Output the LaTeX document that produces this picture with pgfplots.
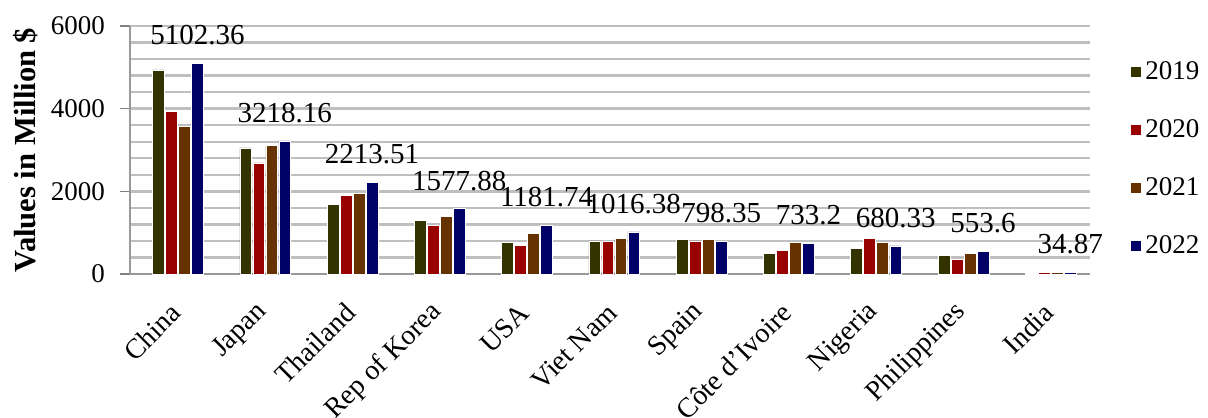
\documentclass[border=0pt]{standalone}
\usepackage{pgfplots}
\pgfplotsset{compat=1.18}
\usepackage{pgfplotstable}
\usepackage{fontspec}
\setmainfont{Liberation Serif}
\newcommand\ft{\fontsize{13.5}{16}\selectfont}
\newcommand\fc{\fontsize{14}{16}\selectfont}
\newcommand\fd{\fontsize{14.5}{17}\selectfont}
\newcommand\fy{\fontsize{15.3}{18}\selectfont}
\definecolor{c19}{HTML}{333300}
\definecolor{c20}{HTML}{990000}
\definecolor{c21}{HTML}{663300}
\definecolor{c22}{HTML}{000066}
\definecolor{gridc}{HTML}{BFBFBF}
\pgfplotstableread{
x a b c d lab
0 4940 3940 3580 5102.36 5102.36
1 3050 2690 3120 3218.16 3218.16
2 1680 1900 1950 2213.51 2213.51
3 1290 1170 1385 1577.88 1577.88
4 770 700 990 1181.74 1181.74
5 800 780 870 1016.38 1016.38
6 840 800 830 798.35 798.35
7 490 565 760 733.2 733.2
8 610 870 755 680.33 680.33
9 455 360 500 553.6 553.6
10 20 30 45 34.87 34.87
}\data
\begin{document}
\begin{tikzpicture}
\begin{axis}[
  scale only axis, width=480pt, height=124pt,
  xmin=-0.55, xmax=10.45, ymin=0, ymax=6000,
  ybar=0.6pt, bar width=5.9pt,
  /pgf/number format/assume math mode=true,
  /pgf/number format/1000 sep={},
  xtick=data,
  xticklabels={China,Japan,Thailand,Rep of Korea,USA,Viet Nam,Spain,{Côte d'Ivoire},Nigeria,Philippines,India},
  x tick label style={font=\fc, anchor=east, inner sep=0pt, yshift=-12pt, xshift=-1pt, rotate=45},
  major x tick style={draw=none},
  ytick={0,2000,4000,6000},
  yticklabels={{\ft 0},{\ft 2000},{\ft 4000},{\ft 6000}},
  minor ytick={400,800,1200,1600,2400,2800,3200,3600,4400,4800,5200,5600},
  y tick label style={font=\ft, xshift=-4pt},
  scaled y ticks=false,
  ymajorgrids, yminorgrids,
  major grid style={draw=gridc, line width=1.2pt},
  minor grid style={draw=gridc, line width=1.2pt},
  tick align=outside, major tick length=5pt,
  major y tick style={draw=gray, line width=0.8pt},
  minor y tick style={draw=none},
  axis x line*=bottom, axis y line*=left,
  axis line style={draw=gray!80, line width=1.2pt},
  ylabel={\textbf{Values in Million \$}},
  ylabel style={font=\fy},
  ylabel shift=-0.5pt,
  legend style={draw=none, fill=none, font=\ft, at={(1.035,0.465)}, anchor=west,
    row sep=14.5pt, cells={anchor=west}},
  legend image code/.code={\fill[#1] (0pt,-2.7pt) rectangle (5.4pt,2.7pt);},
  clip=false,
]
\addplot[fill=c19, draw=white, line width=0.3pt] table[x=x,y=a]{\data};
\addplot[fill=c20, draw=white, line width=0.3pt] table[x=x,y=b]{\data};
\addplot[fill=c21, draw=white, line width=0.3pt] table[x=x,y=c]{\data};
\addplot[fill=c22, draw=white, line width=0.3pt,
  nodes near coords, point meta=explicit symbolic,
  nodes near coords style={font=\fd, text=black, anchor=south, yshift=8pt, inner sep=1pt}]
  table[x=x,y=d,meta=lab]{\data};
\legend{2019,2020,2021,2022}
\coordinate (bl) at (rel axis cs:-0.1354,-0.5806);
\coordinate (tr) at (rel axis cs:1.1229,1.1048);
\end{axis}
\pgfresetboundingbox
\path[use as bounding box] (bl) rectangle (tr);
\end{tikzpicture}
\end{document}
